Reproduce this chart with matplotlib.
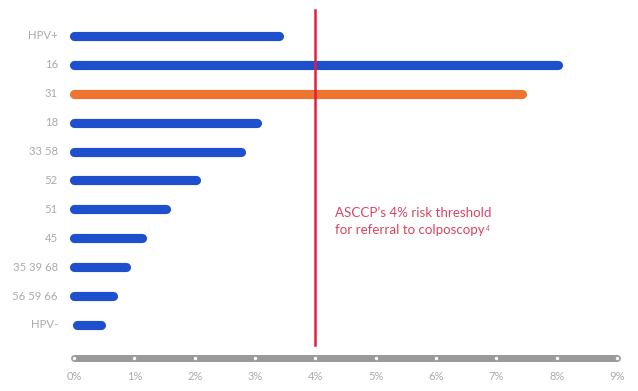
import matplotlib
matplotlib.use("Agg")
import matplotlib.pyplot as plt

categories = ["HPV+", "16", "31", "18", "33 58", "52", "51", "45", "35 39 68", "56 59 66", "HPV-"]
risk = [3.4, 8.02, 7.42, 3.04, 2.76, 2.03, 1.52, 1.12, 0.87, 0.64, 0.44]
starts = [0, 0, 0, 0, 0, 0, 0, 0, 0, 0, 0.05]
highlight = "31"
threshold = 4
xticks = list(range(0, 10))
xtick_labels = [f"{t}%" for t in xticks]

BLUE = "#1e4fcc"
ORANGE = "#ee7531"
RED = "#e21f3d"
TEXT_RED = "#d84560"
GRAY_TXT = "#ababab"
AXIS_GRAY = "#9a9a9a"

plt.rcParams['font.family'] = ['Lato', 'DejaVu Sans']

fig = plt.figure(figsize=(6.38, 3.91), dpi=100)
ax = fig.add_axes([0, 0, 1, 1])
pxu = 60.33
ax.set_xlim(-74 / pxu, (638 - 74) / pxu)
ypx = 28.9
ax.set_ylim((391 - 36) / ypx, -36 / ypx)
ax.axis("off")

for i, (c, v, s) in enumerate(zip(categories, risk, starts)):
    col = ORANGE if c == highlight else BLUE
    ax.plot([s, v], [i, i], color=col, lw=6.6, solid_capstyle="round", zorder=2)
    ax.text(-16 / pxu, i, c, ha="right", va="center", fontsize=8.2,
            color=GRAY_TXT)

# threshold line
ax.plot([threshold, threshold], [(10 - 36) / ypx, (345 - 36) / ypx],
        color=RED, lw=1.8, zorder=3)
ax.text(threshold + 20 / pxu, (213 - 36) / ypx, "ASCCP\u2019s 4% risk threshold",
        ha="left", va="center", fontsize=9.6, color=TEXT_RED)
t2 = ax.text(threshold + 20 / pxu, (230 - 36) / ypx, "for referral to colposcopy",
             ha="left", va="center", fontsize=9.6, color=TEXT_RED)
ax.annotate("4", xy=(1, 1), xycoords=t2, xytext=(0.5, -1), textcoords="offset points",
            ha="left", va="top", fontsize=5, color=TEXT_RED)

# axis bar
ay = (358 - 36) / ypx
ax.plot([xticks[0], xticks[-1]], [ay, ay], color=AXIS_GRAY, lw=5, solid_capstyle="round", zorder=2)
ax.scatter(xticks, [ay] * len(xticks), s=6, color="white", zorder=3, linewidths=0)
for t, lab in zip(xticks, xtick_labels):
    ax.text(t, (377 - 36) / ypx, lab, ha="center", va="center", fontsize=8,
            color=GRAY_TXT)

fig.savefig("out.png", dpi=100)
